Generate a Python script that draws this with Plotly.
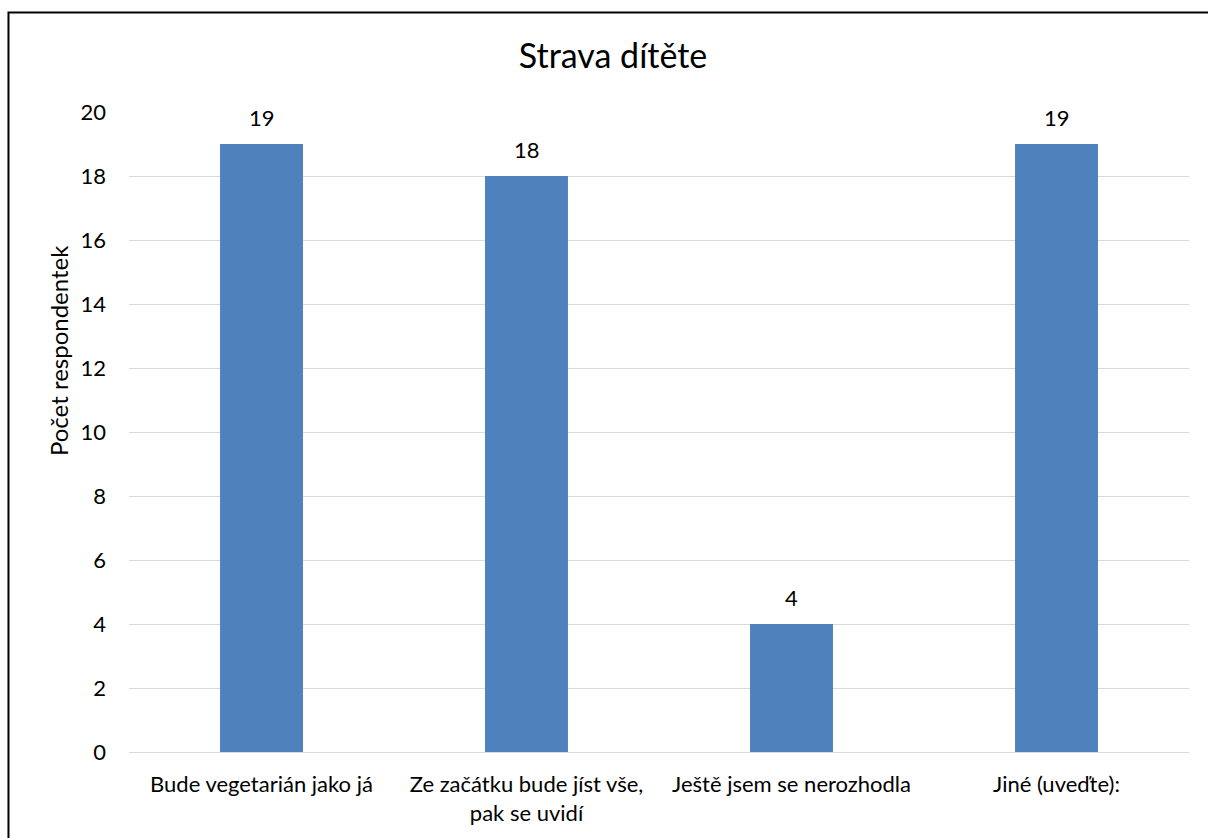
import plotly.graph_objects as go

categories = ["Bude vegetarián jako já", "Ze začátku bude jíst vše,<br>pak se uvidí",
              "Ještě jsem se nerozhodla", "Jiné (uveďte):"]
values = [19, 18, 4, 19]
y_ticks = [0, 2, 4, 6, 8, 10, 12, 14, 16, 18, 20]

FONT = "Lato, 'Open Sans', sans-serif"

fig = go.Figure(go.Bar(
    x=categories, y=values, marker=dict(color="#4f81bd", line=dict(width=0)),
    width=0.313, hoverinfo="x+y",
))

annotations = [
    dict(x=c, y=v, xref="x", yref="y", text=str(v), showarrow=False,
         yanchor="middle", yshift=27, font=dict(size=22, color="#000000", family=FONT))
    for c, v in zip(categories, values)
]
annotations.append(dict(
    text="Počet respondentek", xref="paper", yref="paper", x=-0.067, y=0.628,
    xanchor="center", yanchor="middle", textangle=-90, showarrow=False,
    font=dict(size=24, color="#000000", family=FONT)))

fig.update_layout(
    width=1208, height=838,
    margin=dict(l=129, r=19, t=112, b=86),
    paper_bgcolor="white", plot_bgcolor="white",
    showlegend=False,
    title=dict(text="Strava dítěte", x=0.5075, xanchor="center", y=0.933, yanchor="middle",
               font=dict(size=34, color="#000000", family=FONT)),
    font=dict(family=FONT, color="#000000", size=22),
    xaxis=dict(showgrid=False, showline=True, linecolor="#d9d9d9", linewidth=1,
               ticks="", tickfont=dict(size=22), ticklabelstandoff=13),
    yaxis=dict(range=[0, 20], tickvals=y_ticks, showgrid=True, gridcolor="#d9d9d9",
               gridwidth=1, zeroline=False, showline=False, ticks="",
               tickfont=dict(size=22), ticklabelstandoff=22),
    annotations=annotations,
    shapes=[dict(type="rect", xref="paper", yref="paper",
                 x0=-0.1137, x1=1.03, y0=-0.15, y1=1.1555,
                 line=dict(color="black", width=2), fillcolor="rgba(0,0,0,0)", layer="above")],
)

fig.write_html("out.html")
